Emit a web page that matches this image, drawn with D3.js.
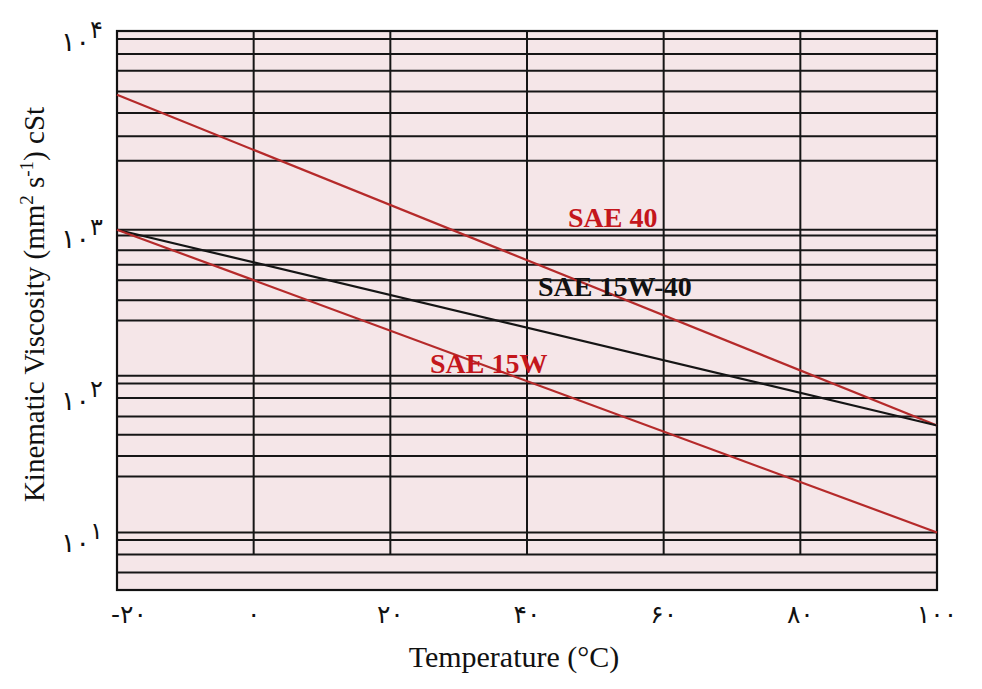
<!DOCTYPE html>
<html>
<head>
<meta charset="utf-8">
<script src="https://cdn.jsdelivr.net/npm/d3@7"></script>
<style>
  body { margin: 0; background: #fff; }
  svg { display: block; }
</style>
</head>
<body>
<div id="chart"></div>
<script>
// chart values
const temps = [-20, 100];
const sae40 = [5200, 64];
const sae15w40 = [1070, 64];
const sae15w = [1070, 11.3];

const xTicks = [-20, 0, 20, 40, 60, 80, 100];
const xTickLabels = ["-۲۰", "۰", "۲۰", "۴۰", "۶۰", "۸۰", "۱۰۰"];
const yTicks = [10, 100, 1000, 10000];
const yTickExp = ["۱", "۲", "۳", "۴"];
// horizontal rulings of the chart paper (cSt)
const gridValues = [10000, 8400, 6900, 5400, 4200, 3200, 2400, 1070, 1000,
  810, 660, 530, 400, 300, 137, 123, 100, 74, 55, 39, 28, 11.3, 10, 7.9, 5.9];
const gridStop = 7.9; // vertical rulings end on this line

const series = [
  { name: "SAE 40", values: sae40, color: "#b52a2a" },
  { name: "SAE 15W-40", values: sae15w40, color: "#151515" },
  { name: "SAE 15W", values: sae15w, color: "#b52a2a" }
];
const labels = [
  { text: "SAE 40", t: 46, v: 1105, color: "#c4161c" },
  { text: "SAE 15W-40", t: 41.6, v: 425, color: "#111" },
  { text: "SAE 15W", t: 25.8, v: 143, color: "#c4161c" }
];

const margin = {top: 31, right: 45, bottom: 99, left: 117},
    width = 982 - margin.left - margin.right,
    height = 689 - margin.top - margin.bottom;

const svg = d3.select("#chart")
  .append("svg")
  .attr("width", width + margin.left + margin.right)
  .attr("height", height + margin.top + margin.bottom)
  .append("g")
  .attr("transform", `translate(${margin.left},${margin.top})`);

const x = d3.scaleLinear().domain([-20, 100]).range([0, width]);

// the paper's decades are not evenly spaced, so map log10(v) piecewise
const yLog = d3.scaleLinear()
  .domain([0, 1, 2, 3, 4])
  .range([651, 509, 367, 204.5, 8]);
const y = v => yLog(Math.log10(v));

// paper
svg.append("rect")
  .attr("width", width)
  .attr("height", height)
  .attr("fill", "#f5e6e8");

// horizontal rulings
svg.selectAll(".hgrid")
  .data(gridValues)
  .join("line")
  .attr("x1", 0)
  .attr("x2", width)
  .attr("y1", d => y(d))
  .attr("y2", d => y(d))
  .attr("stroke", "#161616")
  .attr("stroke-width", 2);

// vertical rulings
svg.selectAll(".vgrid")
  .data(xTicks.slice(1, -1))
  .join("line")
  .attr("x1", d => x(d))
  .attr("x2", d => x(d))
  .attr("y1", 0)
  .attr("y2", y(gridStop))
  .attr("stroke", "#161616")
  .attr("stroke-width", 2);

// frame
svg.append("rect")
  .attr("width", width)
  .attr("height", height)
  .attr("fill", "none")
  .attr("stroke", "#111")
  .attr("stroke-width", 2.2);

// lines
const line = d3.line()
  .x(d => x(d[0]))
  .y(d => y(d[1]));

svg.selectAll(".series")
  .data(series)
  .join("path")
  .attr("d", d => line(d3.zip(temps, d.values)))
  .attr("fill", "none")
  .attr("stroke", d => d.color)
  .attr("stroke-width", 2.2);

// line labels
svg.selectAll(".lbl")
  .data(labels)
  .join("text")
  .attr("x", d => x(d.t))
  .attr("y", d => y(d.v))
  .attr("fill", d => d.color)
  .style("font-family", "'Liberation Serif', 'Times New Roman', serif")
  .style("font-weight", "bold")
  .style("font-size", "28px")
  .text(d => d.text);

// x tick labels
svg.selectAll(".xtick")
  .data(xTicks)
  .join("text")
  .attr("x", (d, i) => x(d) + (i === 0 ? 12 : 0))
  .attr("y", height + 33)
  .attr("text-anchor", "middle")
  .attr("fill", "#111")
  .style("font-family", "'DejaVu Sans', sans-serif")
  .style("font-size", "25px")
  .text((d, i) => xTickLabels[i]);

// y tick labels: 10 with a Persian exponent
const yt = svg.selectAll(".ytick")
  .data(yTicks)
  .join("text")
  .attr("x", -14)
  .attr("y", d => y(d) + 12)
  .attr("text-anchor", "end")
  .attr("fill", "#111")
  .style("font-family", "'DejaVu Sans', sans-serif")
  .style("font-size", "27px");
yt.append("tspan").text("۱۰");
yt.append("tspan")
  .attr("dy", -13)
  .style("font-size", "24px")
  .text((d, i) => yTickExp[i]);

// axis titles
svg.append("text")
  .attr("x", width / 2 - 13)
  .attr("y", height + 77)
  .attr("text-anchor", "middle")
  .attr("fill", "#111")
  .style("font-family", "'Liberation Serif', 'Times New Roman', serif")
  .style("font-size", "30px")
  .text("Temperature (°C)");

const yTitle = svg.append("text")
  .attr("transform", `translate(${-73},${height / 2 - 6}) rotate(-90)`)
  .attr("text-anchor", "middle")
  .attr("fill", "#111")
  .style("font-family", "'Liberation Serif', 'Times New Roman', serif")
  .style("font-size", "29px");
yTitle.append("tspan").text("Kinematic Viscosity (mm");
yTitle.append("tspan").attr("dy", -11).style("font-size", "19px").text("2");
yTitle.append("tspan").attr("dy", 11).text(" s");
yTitle.append("tspan").attr("dy", -11).style("font-size", "19px").text("-1");
yTitle.append("tspan").attr("dy", 11).text(") cSt");
</script>
</body>
</html>
